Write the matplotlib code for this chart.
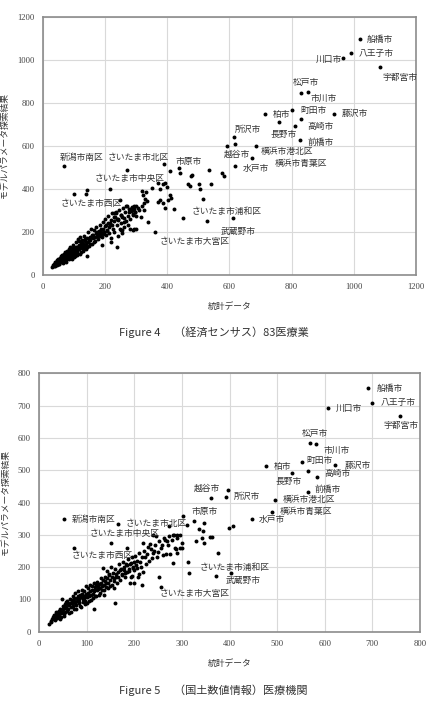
import numpy as np
import matplotlib
matplotlib.use("Agg")
import matplotlib.pyplot as plt

plt.rcParams['font.family'] = ['Noto Sans CJK JP', 'DejaVu Sans']

# ---- Figure 4 データ（経済センサス 83医療業）----
fig4_pts = [
    # 上位の都市
    (1019, 1096), (992, 1031), (966, 1011), (1085, 967), (829, 847), (854, 851),
    (715, 747), (758, 712), (802, 766), (936, 750), (829, 726), (810, 691),
    (827, 629), (613, 639), (591, 600), (619, 608), (684, 598), (672, 543), (619, 507),
    # 中間
    (69, 506), (101, 377), (271, 489), (214, 400), (390, 517), (408, 482), (436, 498),
    (441, 475), (475, 458), (479, 463), (534, 489), (577, 475), (583, 459), (467, 424),
    (473, 411), (501, 424), (505, 397), (539, 424), (515, 353), (451, 266), (529, 252),
    (612, 263), (423, 306), (359, 200), (237, 130), (392, 311), (407, 373), (411, 357),
    (403, 348), (375, 400), (385, 420), (392, 426), (398, 410), (369, 427), (350, 405),
    (369, 339), (377, 349), (386, 334), (339, 244), (325, 335), (329, 353), (322, 372),
    (330, 383), (319, 392), (285, 300), (292, 318), (280, 305), (296, 290), (288, 284),
    (138, 377), (143, 393), (249, 350), (251, 280), (254, 270), (230, 285), (238, 258),
    (242, 255), (300, 212), (294, 215), (262, 245), (250, 208), (305, 310), (310, 300),
    (318, 320), (326, 300), (333, 345), (268, 318), (276, 290), (227, 270), (234, 285),
    (253, 208), (280, 211), (220, 150), (190, 140), (315, 270),
    # 密集帯
    (28, 37), (32, 45), (35, 52), (38, 42), (40, 60), (42, 50), (45, 70), (47, 55),
    (50, 48), (52, 65), (55, 80), (55, 58), (58, 72), (60, 90), (62, 62), (64, 78),
    (66, 95), (68, 70), (70, 85), (72, 105), (74, 60), (75, 92), (78, 110), (80, 78),
    (82, 100), (84, 120), (86, 88), (88, 130), (90, 105), (92, 75), (94, 115), (96, 95),
    (98, 140), (100, 110), (102, 125), (104, 88), (106, 150), (108, 100), (110, 130),
    (112, 165), (114, 118), (116, 140), (118, 95), (120, 175), (122, 150), (124, 125),
    (126, 160), (128, 110), (130, 145), (132, 180), (134, 135), (136, 155), (138, 120),
    (140, 170), (142, 88), (144, 150), (146, 200), (148, 135), (150, 175), (152, 160),
    (155, 215), (158, 145), (160, 185), (162, 170), (165, 210), (168, 155), (170, 195),
    (172, 220), (175, 180), (178, 165), (180, 205), (182, 230), (185, 190), (188, 215),
    (190, 175), (192, 245), (195, 200), (198, 225), (200, 260), (202, 185), (205, 210),
    (208, 240), (210, 275), (212, 195), (215, 230), (218, 255), (220, 170), (222, 285),
    (225, 215), (228, 250), (230, 200), (232, 270), (235, 290), (238, 230), (240, 180),
    (242, 260), (245, 300), (248, 215), (250, 280), (252, 240), (255, 195), (258, 310),
    (260, 265), (262, 220), (265, 290), (268, 250), (270, 320), (272, 275), (275, 230),
    (278, 305), (280, 260), (282, 295), (285, 315), (288, 280), (290, 210), (292, 305),
    (295, 290), (298, 320), (300, 275), (44, 62), (48, 75), (53, 50), (57, 85), (61, 70),
    (63, 55), (67, 82), (71, 68), (76, 80), (79, 95), (83, 72), (87, 108), (91, 90),
    (95, 125), (99, 82), (103, 105), (107, 118), (111, 92), (115, 155), (119, 130),
    (123, 108), (127, 140), (131, 120), (135, 168), (139, 145), (143, 130), (147, 160),
    (151, 142), (157, 185), (163, 150), (167, 175), (173, 200), (177, 190), (183, 178),
    (187, 200), (193, 215), (197, 190), (203, 230), (207, 205), (213, 220), (217, 240),
    (223, 230), (36, 40), (41, 48), (46, 45), (51, 58), (56, 66), (65, 66), (69, 78),
    (73, 88), (77, 72), (81, 88), (85, 98), (89, 85), (93, 100), (97, 110), (101, 98),
    (105, 130), (109, 112), (113, 128), (117, 120), (121, 138), (125, 148), (129, 132),
]

fig4_labels = ["船橋市", "八王子市", "川口市", "宇都宮市", "松戸市", "市川市", "柏市",
               "町田市", "藤沢市", "高崎市", "長野市", "所沢市", "前橋市", "越谷市",
               "横浜市港北区", "横浜市青葉区", "水戸市", "新潟市南区", "さいたま市北区",
               "市原市", "さいたま市中央区", "さいたま市西区", "さいたま市浦和区",
               "武蔵野市", "さいたま市大宮区"]
fig4_label_xy = [(1041, 1096), (1017, 1031), (878, 1001), (1092, 918), (805, 896),
                 (862, 822), (739, 747), (827, 766), (961, 750), (850, 691), (732, 653),
                 (618, 676), (850, 616), (583, 562), (700, 573), (746, 519), (642, 494),
                 (53, 547), (208, 547), (427, 529), (167, 447), (58, 331), (478, 295),
                 (573, 199), (376, 153)]

# ---- Figure 5 データ（国土数値情報 医療機関）----
fig5_pts = [
    # 上位の都市
    (691, 754), (700, 709), (607, 694), (758, 669), (569, 583), (581, 581), (476, 514),
    (553, 526), (622, 516), (531, 492), (565, 498), (583, 480), (565, 433), (495, 409),
    (490, 371), (446, 349), (360, 414), (397, 438), (392, 418), (303, 358),
    # 中間
    (52, 349), (165, 335), (73, 260), (151, 276), (184, 260), (403, 182), (371, 173),
    (256, 137), (251, 168), (312, 215), (315, 183), (375, 245), (399, 320), (408, 328),
    (325, 343), (346, 336), (336, 317), (345, 312), (329, 282), (341, 289), (346, 276),
    (359, 292), (363, 292), (310, 331), (273, 328), (296, 300), (300, 276), (282, 300),
    (289, 290), (280, 214), (261, 238), (159, 90), (115, 70), (83, 91), (295, 260),
    (290, 245), (285, 258), (300, 258), (270, 270), (265, 285), (245, 295), (240, 300),
    (232, 272), (228, 262), (222, 230), (218, 275), (215, 145), (210, 178), (205, 198),
    (200, 150), (195, 172), (190, 150), (266, 240), (250, 248), (236, 228), (242, 250),
    (255, 260), (275, 240), (287, 255),
    # 密集帯
    (20, 25), (24, 32), (27, 40), (30, 48), (32, 35), (34, 45), (36, 55), (38, 42),
    (40, 60), (42, 50), (44, 70), (46, 45), (47, 102), (48, 62), (50, 80), (52, 55),
    (54, 72), (56, 92), (58, 65), (60, 85), (62, 58), (64, 100), (66, 75), (68, 88),
    (70, 110), (72, 70), (74, 95), (76, 120), (78, 82), (80, 105), (82, 125), (84, 90),
    (86, 115), (88, 75), (90, 130), (92, 100), (94, 112), (96, 85), (98, 140), (100, 108),
    (102, 120), (104, 95), (106, 145), (108, 115), (110, 130), (112, 105), (114, 150),
    (116, 125), (118, 138), (120, 112), (122, 155), (124, 132), (126, 148), (128, 120),
    (130, 165), (132, 140), (134, 198), (136, 128), (138, 170), (140, 150), (142, 188),
    (144, 135), (146, 175), (148, 160), (150, 200), (152, 145), (154, 182), (156, 165),
    (158, 135), (160, 195), (162, 170), (164, 150), (166, 185), (168, 210), (170, 160),
    (172, 195), (174, 178), (176, 215), (178, 190), (180, 170), (182, 210), (184, 185),
    (186, 225), (188, 195), (190, 210), (192, 168), (194, 230), (196, 200), (198, 215),
    (200, 190), (202, 235), (204, 205), (206, 220), (208, 170), (210, 245), (212, 215),
    (214, 200), (216, 230), (218, 185), (220, 250), (224, 210), (226, 240), (230, 220),
    (234, 255), (238, 245), (244, 270), (248, 232), (252, 280), (258, 268), (262, 290),
    (268, 280), (272, 296), (278, 285), (284, 298), (290, 300), (25, 30), (28, 45),
    (31, 52), (33, 38), (35, 60), (37, 48), (39, 55), (41, 65), (43, 40), (45, 58),
    (49, 70), (51, 48), (53, 85), (55, 62), (57, 78), (59, 95), (61, 70), (63, 82),
    (65, 90), (67, 62), (69, 98), (71, 80), (73, 105), (75, 88), (77, 70), (79, 95),
    (81, 112), (83, 100), (85, 80), (87, 108), (89, 118), (91, 92), (93, 125), (95, 105),
    (97, 95), (99, 118), (101, 88), (103, 135), (105, 110), (107, 125), (109, 98),
    (111, 140), (113, 118), (115, 128), (117, 110), (119, 145), (121, 128), (123, 140),
    (125, 115), (127, 135), (129, 150), (131, 128), (133, 160), (135, 145), (137, 115),
    (139, 158), (141, 138), (143, 165), (145, 150), (147, 178), (149, 140), (153, 170),
    (157, 158), (161, 180), (165, 168), (169, 190), (173, 175), (177, 200), (181, 182),
    (185, 205), (189, 188), (193, 212), (197, 198),
]

fig5_labels = ["船橋市", "八王子市", "川口市", "宇都宮市", "松戸市", "市川市", "柏市",
               "町田市", "藤沢市", "長野市", "高崎市", "前橋市", "横浜市港北区",
               "横浜市青葉区", "水戸市", "越谷市", "所沢市", "市原市", "新潟市南区",
               "さいたま市北区", "さいたま市中央区", "さいたま市西区", "さいたま市浦和区",
               "武蔵野市", "さいたま市大宮区"]
fig5_label_xy = [(709, 754), (718, 709), (623, 692), (723, 640), (551, 614), (598, 562),
                 (492, 513), (562, 531), (641, 515), (497, 466), (599, 489), (579, 440),
                 (511, 410), (506, 371), (462, 347), (324, 443), (408, 418), (319, 371),
                 (68, 349), (182, 334), (105, 303), (68, 236), (336, 198), (392, 158),
                 (252, 118)]

fig = plt.figure(figsize=(4.27, 7.04), dpi=100)


def draw(ax, pts, labels, label_xy, lim, step):
    pts = np.array(pts)
    ax.scatter(pts[:, 0], pts[:, 1], s=8, c="black", linewidths=0, zorder=3)
    for t, (lx, ly) in zip(labels, label_xy):
        ax.text(lx, ly, t, fontsize=6.3, color="#333333", ha="left", va="center", zorder=4)
    ax.set_xlim(0, lim)
    ax.set_ylim(0, lim)
    ticks = np.arange(0, lim + 1, step)
    ax.set_xticks(ticks)
    ax.set_yticks(ticks)
    ax.set_xticklabels([str(t) for t in ticks], family="Liberation Serif", fontsize=6.2)
    ax.set_yticklabels([str(t) for t in ticks], family="Liberation Serif", fontsize=6.2)
    ax.tick_params(length=0, pad=6, colors="#444444")
    ax.grid(True, color="#d9d9d9", linewidth=0.8)
    ax.set_axisbelow(True)
    for sp in ax.spines.values():
        sp.set_color("#8c8c8c")
        sp.set_linewidth(1.2)
    ax.set_xlabel("統計データ", fontsize=6.3, color="#333333", labelpad=8)
    ax.set_ylabel("モデルパラメータ探索結果", fontsize=6.3, color="#333333", labelpad=6)


ax1 = fig.add_axes([0.1007, 0.6098, 0.8735, 0.3661])
draw(ax1, fig4_pts, fig4_labels, fig4_label_xy, 1200, 200)

ax2 = fig.add_axes([0.092, 0.1027, 0.8916, 0.367])
draw(ax2, fig5_pts, fig5_labels, fig5_label_xy, 800, 100)

fig.text(0.5, 1 - 332 / 704, "Figure 4 　（経済センサス）83医療業", ha="center", va="center",
         fontsize=8, color="#333333")
fig.text(0.5, 1 - 690 / 704, "Figure 5 　（国土数値情報）医療機関", ha="center", va="center",
         fontsize=8, color="#333333")

fig.savefig("out.png", dpi=100)
